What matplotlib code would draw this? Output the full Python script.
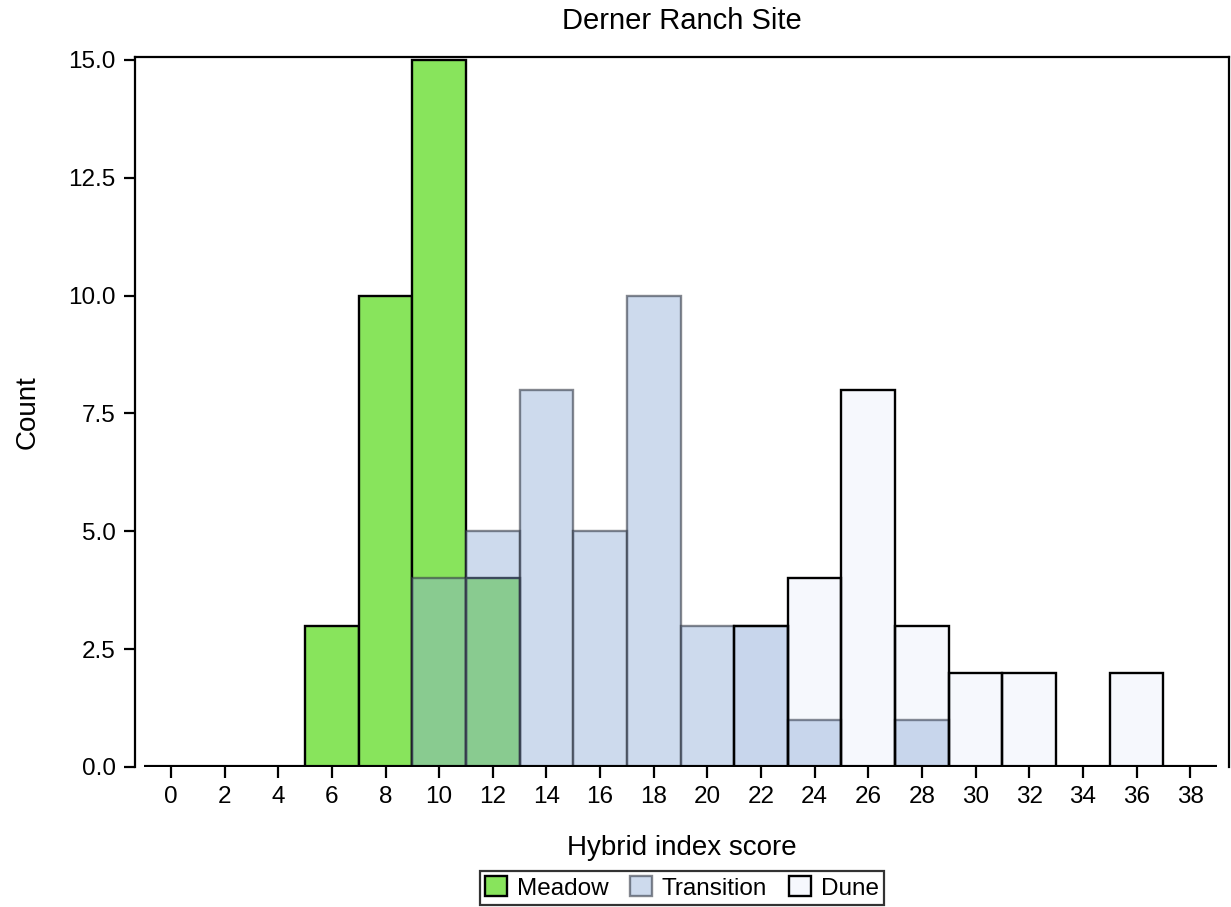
"""
Overlaid histogram of hybrid index scores for the Derner Ranch site.
"""
import matplotlib
matplotlib.use('Agg')
import matplotlib.pyplot as plt

# bin centres (width 2) and counts per habitat
bin_centers = list(range(0, 40, 2))
meadow = [0, 0, 0, 3, 10, 15, 4, 0, 0, 0, 0, 0, 0, 0, 0, 0, 0, 0, 0, 0]
transition = [0, 0, 0, 0, 0, 4, 5, 8, 5, 10, 3, 3, 1, 0, 1, 0, 0, 0, 0, 0]
dune = [0, 0, 0, 0, 0, 0, 0, 0, 0, 0, 0, 3, 4, 8, 3, 2, 2, 0, 2, 0]
series_names = ['Meadow', 'Transition', 'Dune']
y_ticks = [0.0, 2.5, 5.0, 7.5, 10.0, 12.5, 15.0]


def main():
    plt.rcParams['font.family'] = ['Liberation Sans', 'DejaVu Sans']
    fig = plt.figure(figsize=(12.31, 9.07), dpi=100)
    ax = fig.add_axes([0.1097, 0.1544, 0.8887, 0.7828])

    styles = [
        dict(facecolor='#88e45c', edgecolor='black'),
        dict(facecolor=(140/255, 170/255, 215/255, 0.43), edgecolor=(0.2, 0.22, 0.27, 0.6)),
        dict(facecolor=(142/255, 167/255, 230/255, 0.08), edgecolor='black'),
    ]
    handles = []
    for counts, name, st in zip([meadow, transition, dune], series_names, styles):
        bars = ax.bar(bin_centers, counts, width=2, linewidth=1.7, label=name, **st)
        handles.append(bars)
    # empty bins show up as a thick baseline
    ax.hlines(0, bin_centers[0] - 1, bin_centers[-1] + 1, colors='black', linewidth=3, zorder=5)

    ax.set_xlim(-1.34, 39.45)
    ax.set_ylim(0, 15.06)
    ax.set_xticks(bin_centers)
    ax.set_xticklabels([str(c) for c in bin_centers])
    ax.set_yticks(y_ticks)
    ax.set_yticklabels(['%.1f' % v for v in y_ticks])
    ax.tick_params(axis='both', labelsize=17.5, length=8, width=1.6, direction='out', pad=6)
    ax.spines['bottom'].set_visible(False)
    for side in ['left', 'top', 'right']:
        ax.spines[side].set_linewidth(1.6)

    ax.set_title('Derner Ranch Site', fontsize=21, pad=20)
    ax.set_xlabel('Hybrid index score', fontsize=20, labelpad=19)
    ax.set_ylabel('Count', fontsize=20, labelpad=20)

    leg = fig.legend(handles=handles, labels=series_names, loc='lower center',
                     bbox_to_anchor=(682 / 1231, 0.0), ncol=3, fontsize=17.5,
                     frameon=True, fancybox=False, edgecolor='black',
                     handlelength=0.9, handleheight=0.9, handletextpad=0.4,
                     columnspacing=0.9, borderpad=0.2, borderaxespad=0.1)
    leg.get_frame().set_linewidth(1.6)

    plt.savefig('out.png', dpi=100)


if __name__ == '__main__':
    main()
